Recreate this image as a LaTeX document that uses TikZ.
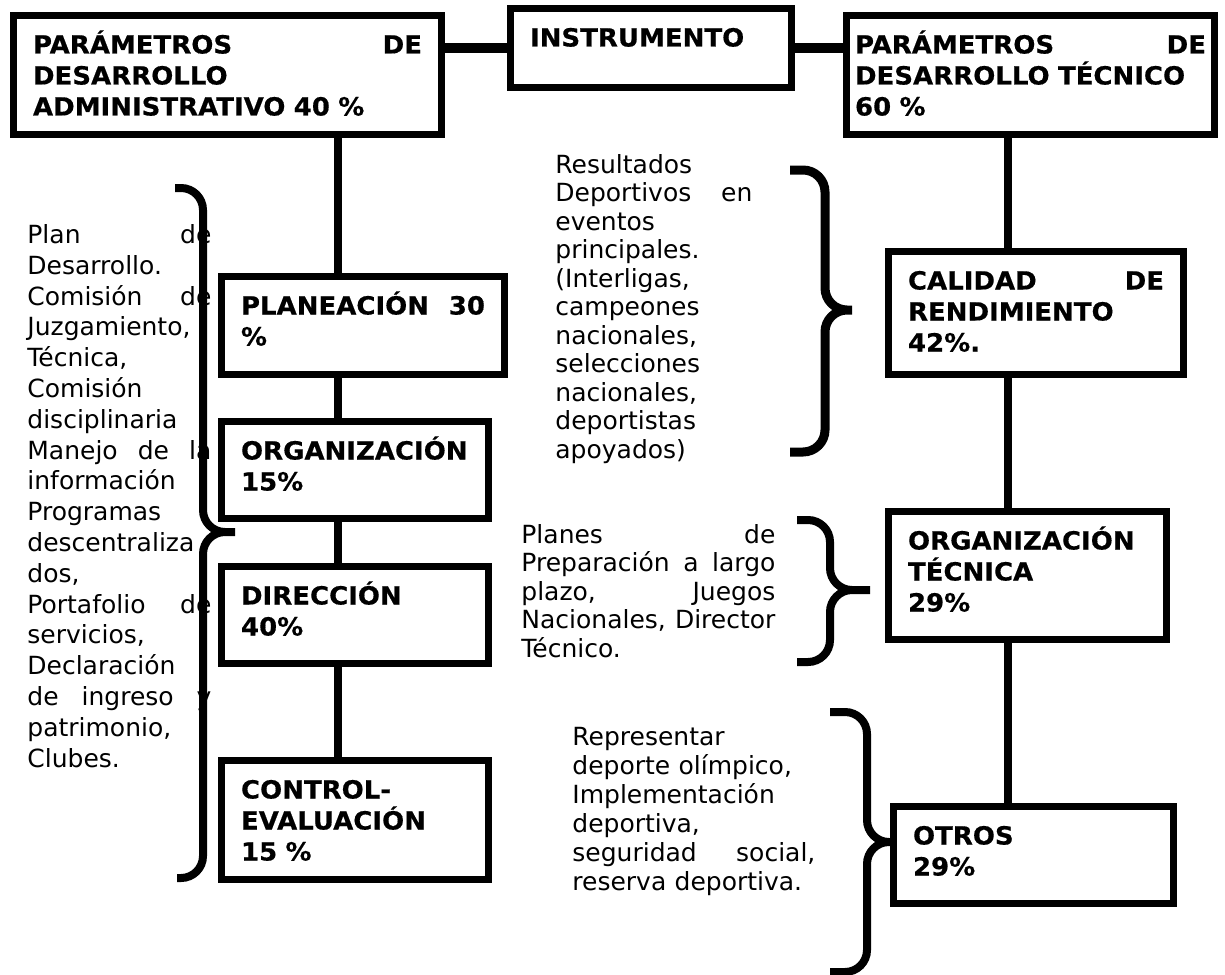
\documentclass[tikz,border=0pt]{standalone}
\usepackage{fontspec}
\setmainfont{DejaVu Sans}[BoldFeatures={FakeStretch=1.04, FakeBold=0.5}]
\usetikzlibrary{positioning}

\begin{document}
\begin{tikzpicture}[
        x=0.5pt, y=-0.5pt,
        box/.style={draw, rectangle, line width=3.5pt, anchor=north west, align=left, inner xsep=9.75pt, inner ysep=10pt, text height=9pt, font=\fontsize{12.5}{15.5}\selectfont\bfseries},
        note/.style={anchor=north west, align=left, inner sep=0pt, text height=9pt, font=\fontsize{12.5}{14.25}\selectfont},
        conn/.style={line width=4pt},
        brc/.style={line width=4pt, rounded corners=11pt}
    ]
    \useasboundingbox (0,0) rectangle (1225,974);

    % --- TOP: instrumento ---
    \node[box, text width=194.5pt, text depth=30.5pt] (adm) at (10,12) {PARÁMETROS\hfill DE\\DESARROLLO\\ADMINISTRATIVO 40~\%};
    \node[box, text width=121pt, text depth=10.5pt] (instr) at (507,5) {INSTRUMENTO};
    \node[box, inner xsep=4.25pt, text width=175.5pt, text depth=30.5pt] (tec) at (843,12) {PARÁMETROS\hfill DE\\DESARROLLO TÉCNICO\\60~\%};
    \draw[conn, line width=5pt] (instr.west) -- (instr.west -| adm.east);
    \draw[conn, line width=5pt] (instr.east) -- (instr.east -| tec.west);

    % --- LEFT: administrativo ---
    \coordinate (lx) at (338,0);
    \node[box, text width=122pt, text depth=20pt] (plan) at (218,273) {PLANEACIÓN\hfill 30\\\%};
    \node[box, text width=114pt, text depth=19.5pt, below=20pt of plan.south west, anchor=north west] (org) {ORGANIZACIÓN\\15\%};
    \node[box, text width=114pt, text depth=19.5pt, below=20.5pt of org.south west, anchor=north west] (dir) {DIRECCIÓN\\40\%};
    \node[box, text width=114pt, text depth=30.5pt, below=45pt of dir.south west, anchor=north west] (ctrl) {CONTROL-\\EVALUACIÓN\\15~\%};
    \draw[conn] (adm.south -| lx) -- (plan.north -| lx);
    \draw[conn] (plan.south -| lx) -- (org.north -| lx);
    \draw[conn] (org.south -| lx) -- (dir.north -| lx);
    \draw[conn] (dir.south -| lx) -- (ctrl.north -| lx);

    \node[note, font=\fontsize{12.5}{15.4}\selectfont, text width=92pt] (lst) at (27,225) {Plan\hfill de\\Desarrollo.\\Comisión\hfill de\\Juzgamiento,\\Técnica,\\Comisión\\disciplinaria\\Manejo\hfill de\hfill la\\información\\Programas\\descentraliza\\dos,\\Portafolio\hfill de\\servicios,\\Declaración\\de\hfill ingreso\hfill y\\patrimonio,\\Clubes.};
    \draw[brc] (175,188) -- (203,188) -- (203,532) -- (235,532)
               (235,532) -- (203,532) -- (203,878) -- (177,878);

    % --- RIGHT: tecnico ---
    \coordinate (rx) at (1008,0);
    \node[box, text width=128pt, text depth=32.5pt] (cal) at (885,248) {CALIDAD\hfill DE\\RENDIMIENTO\\42\%.};
    \node[box, text width=119.5pt, text depth=35pt, below=65pt of cal.south west, anchor=north west] (orgt) {ORGANIZACIÓN\\TÉCNICA\\29\%};
    \node[box, text width=120.5pt, text depth=19.5pt, below=80pt of orgt.south west, anchor=north west, xshift=2.5pt] (otros) {OTROS\\29\%};
    \draw[conn] (tec.south -| rx) -- (cal.north -| rx);
    \draw[conn] (cal.south -| rx) -- (orgt.north -| rx);
    \draw[conn] (orgt.south -| rx) -- (otros.north -| rx);

    \node[note, text width=98.5pt] (res) at (555,155) {Resultados\\Deportivos\hfill en\\eventos\\principales.\\(Interligas,\\campeones\\nacionales,\\selecciones\\nacionales,\\deportistas\\apoyados)};
    \node[note, text width=127pt] (pln) at (521,525) {Planes\hfill de\\Preparación\hfill a\hfill largo\\plazo,\hfill Juegos\\Nacionales,\hfill Director\\Técnico.};
    \node[note, font=\fontsize{12.5}{14.5}\selectfont, text width=121.5pt] (rep) at (572,727) {Representar\\deporte olímpico,\\Implementación\\deportiva,\\seguridad\hfill social,\\reserva deportiva.};
    \draw[brc, line width=4.5pt] (790,170) -- (825,170) -- (825,310) -- (852,310)
               (852,310) -- (825,310) -- (825,452) -- (790,452);
    \draw[brc] (797,520) -- (830,520) -- (830,590) -- (870,590)
               (870,590) -- (830,590) -- (830,662) -- (797,662);
    \draw[brc] (830,712) -- (867,712) -- (867,842) -- (892,842)
               (892,842) -- (867,842) -- (867,972) -- (830,972);
\end{tikzpicture}
\end{document}
